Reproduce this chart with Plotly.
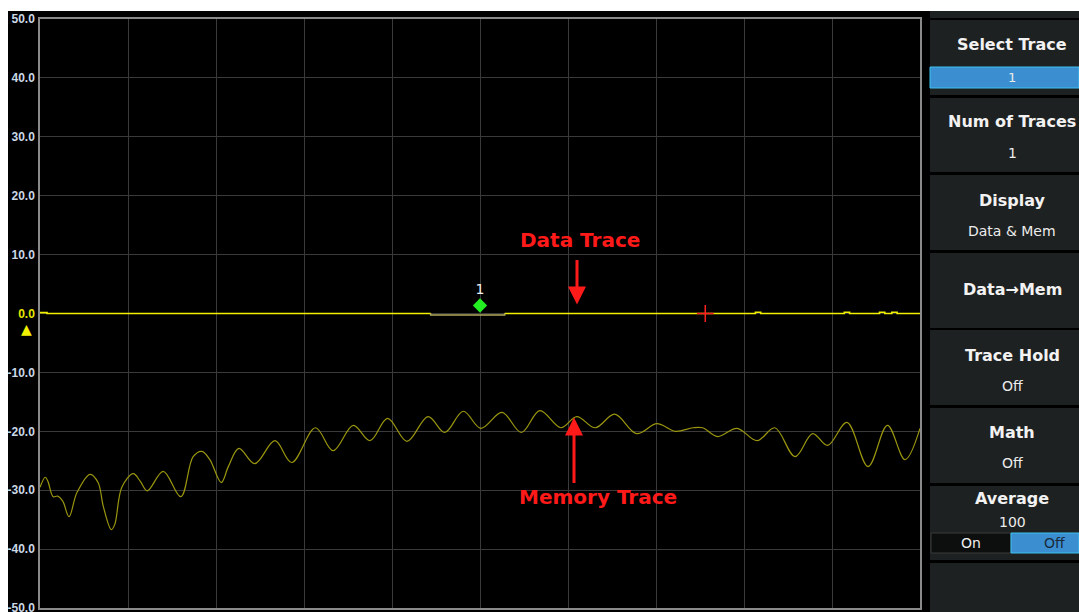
import plotly.graph_objects as go

# ---------------- data ----------------
# x in grid divisions (0..10), y in dB
mem_x = [0.00, 0.06, 0.09, 0.15, 0.20, 0.26, 0.33, 0.42, 0.57, 0.66, 0.72, 0.81, 0.85, 0.93,
         1.06, 1.14, 1.22, 1.40, 1.60, 1.74, 1.84, 1.93, 2.06, 2.14, 2.26, 2.44, 2.67, 2.86,
         3.13, 3.33, 3.56, 3.75, 3.95, 4.17, 4.41, 4.60, 4.81, 5.01, 5.25, 5.47, 5.68, 5.92,
         6.10, 6.31, 6.53, 6.78, 7.01, 7.22, 7.42, 7.53, 7.70, 7.92, 8.15, 8.35, 8.58, 8.78,
         8.95, 9.17, 9.41, 9.63, 9.83, 10.00]
mem_y = [-29.5, -27.8, -28.5, -31.1, -31.0, -31.9, -34.5, -30.4, -27.3, -28.7, -32.8, -36.7, -35.8, -29.5,
         -27.2, -28.5, -30.1, -26.8, -31.1, -24.3, -23.4, -24.8, -28.7, -26.0, -22.9, -25.5, -21.6, -25.3,
         -19.4, -23.3, -19.0, -21.6, -17.8, -21.7, -17.5, -20.2, -16.6, -19.5, -16.8, -20.2, -16.5, -19.4,
         -17.5, -19.4, -17.1, -20.4, -18.7, -20.0, -19.4, -19.4, -20.9, -19.5, -21.6, -19.4, -24.3, -20.4,
         -22.4, -18.5, -26.0, -19.0, -24.8, -19.5]

data_x = [0.00, 0.08, 0.08, 4.44, None, 5.28, 8.13, 8.13, 8.19, 8.19, 9.14, 9.14, 9.20, 9.20,
          9.54, 9.54, 9.60, 9.60, 9.68, 9.68, 9.74, 9.74, 10.00]
data_y = [0.15, 0.15, 0.00, 0.00, None, 0.00, 0.00, 0.20, 0.20, 0.00, 0.00, 0.20, 0.20, 0.00,
          0.00, 0.20, 0.20, 0.00, 0.00, 0.20, 0.20, 0.00, 0.00]
dim_x = [4.44, 4.44, 5.28, 5.28]
dim_y = [0.00, -0.25, -0.25, 0.00]

marker1_x, marker1_y = 5.0, 1.36
cross_x, cross_y = 7.56, 0.0

y_ticks = [50, 40, 30, 20, 10, 0, -10, -20, -30, -40, -50]
y_labels = ["50.0", "40.0", "30.0", "20.0", "10.0", "0.0", "-10.0", "-20.0", "-30.0", "-40.0", "-50.0"]
ref_label = "0.0"

menu_titles = ["Select Trace", "Num of Traces", "Display", "Data\u2192Mem", "Trace Hold", "Math", "Average"]
menu_values = ["1", "1", "Data & Mem", "", "Off", "Off", "100"]
avg_options = ["On", "Off"]

# ---------------- layout helpers (screen pixel -> paper) ----------------
W, H = 1079, 612
L, R, T, B = 40, 920, 19, 608          # plot area in screen pixels


def px(x):
    return (x - L) / (R - L)


def py(y):
    return (B - y) / (B - T)


tick_text = []
for lab in y_labels:
    if lab == ref_label:
        tick_text.append("<b><span style='color:#e6e600'>%s</span></b>" % lab)
    else:
        tick_text.append("<b>%s</b>" % lab)

fig = go.Figure()
fig.add_trace(go.Scatter(x=mem_x, y=mem_y, mode="lines",
                         line=dict(color="#9a960f", width=1.2, shape="spline", smoothing=1.0),
                         hoverinfo="skip"))
fig.add_trace(go.Scatter(x=data_x, y=data_y, mode="lines",
                         line=dict(color="#f2f200", width=1.6), hoverinfo="skip"))
fig.add_trace(go.Scatter(x=dim_x, y=dim_y, mode="lines",
                         line=dict(color="#b4ac5c", width=1.6), hoverinfo="skip"))
fig.add_trace(go.Scatter(x=[marker1_x], y=[marker1_y], mode="markers+text",
                         marker=dict(symbol="diamond", size=11, color="#22ee22"),
                         text=["1"], textposition="top center",
                         textfont=dict(color="#f0f0f0", size=14, family="DejaVu Sans"),
                         hoverinfo="skip"))
fig.add_trace(go.Scatter(x=[cross_x], y=[cross_y], mode="markers",
                         marker=dict(symbol="cross-thin", size=12, color="#ff2020",
                                     line=dict(color="#ff2020", width=1.5)),
                         hoverinfo="skip"))

shapes = []
annotations = []

# white frame bits of the screenshot (top band, left strip)
shapes.append(dict(type="rect", xref="paper", yref="paper", x0=px(0), x1=px(W), y0=py(11), y1=py(0),
                   fillcolor="white", line=dict(width=0), layer="below"))
shapes.append(dict(type="rect", xref="paper", yref="paper", x0=px(0), x1=px(8), y0=py(H), y1=py(0),
                   fillcolor="white", line=dict(width=0), layer="below"))

PANEL = "#1e2121"
shapes.append(dict(type="rect", xref="paper", yref="paper", x0=px(930), x1=px(W), y0=py(18), y1=py(11),
                   fillcolor=PANEL, line=dict(width=0)))
boxes = [(20, 95), (98, 172), (175, 250), (253, 328), (330, 405), (408, 483), (486, 560), (563, 612)]
for (y0, y1) in boxes:
    shapes.append(dict(type="rect", xref="paper", yref="paper", x0=px(930), x1=px(W),
                       y0=py(y1), y1=py(y0), fillcolor=PANEL, line=dict(width=0)))

shapes.append(dict(type="rect", xref="paper", yref="paper", x0=px(930), x1=px(W),
                   y0=py(88), y1=py(67), fillcolor="#3b8ecf", line=dict(color="#3cc4f2", width=1)))
shapes.append(dict(type="rect", xref="paper", yref="paper", x0=px(931), x1=px(1011),
                   y0=py(553), y1=py(533), fillcolor="#0d0e0e", line=dict(color="#3a3c3c", width=1)))
shapes.append(dict(type="rect", xref="paper", yref="paper", x0=px(1011), x1=px(W),
                   y0=py(553), y1=py(533), fillcolor="#3b8ecf", line=dict(color="#3cc4f2", width=1)))

title_y = [45, 122, 200, 289, 355, 432, 498]
value_y = [78, 153, 231, None, 386, 463, 522]
CX = 1012
for t, v, ty, vy in zip(menu_titles, menu_values, title_y, value_y):
    annotations.append(dict(xref="paper", yref="paper", x=px(CX), y=py(ty), text="<b>%s</b>" % t,
                            showarrow=False, xanchor="center", yanchor="middle",
                            font=dict(family="DejaVu Sans", size=16, color="#f2f2f2")))
    if v and vy is not None:
        annotations.append(dict(xref="paper", yref="paper", x=px(CX), y=py(vy), text=v,
                                showarrow=False, xanchor="center", yanchor="middle",
                                font=dict(family="DejaVu Sans", size=14 if vy != 78 else 13,
                                          color="#ececec")))
for opt, ox in zip(avg_options, [971, 1054]):
    annotations.append(dict(xref="paper", yref="paper", x=px(ox), y=py(543), text=opt,
                            showarrow=False, xanchor="center", yanchor="middle",
                            font=dict(family="DejaVu Sans", size=14,
                                      color="#f0f0f0" if opt == "On" else "#1a2a3a")))

annotations.append(dict(xref="paper", yref="paper", x=px(26), y=py(329), text="\u25b2",
                        showarrow=False, xanchor="center", yanchor="middle",
                        font=dict(family="DejaVu Sans", size=14, color="#f2f200")))

annotations.append(dict(xref="paper", yref="paper", x=px(580), y=py(240), text="<b>Data Trace</b>",
                        showarrow=False, xanchor="center", yanchor="middle",
                        font=dict(family="DejaVu Sans", size=20, color="#ff1a1a")))
annotations.append(dict(x=(577 - L) / 88, y=(314 - 305) / 5.89, xref="x", yref="y", text="",
                        showarrow=True, arrowhead=2, arrowsize=1.2, arrowwidth=3, arrowcolor="#ff1a1a",
                        ax=0, ay=-46))
annotations.append(dict(xref="paper", yref="paper", x=px(598), y=py(497), text="<b>Memory Trace</b>",
                        showarrow=False, xanchor="center", yanchor="middle",
                        font=dict(family="DejaVu Sans", size=20, color="#ff1a1a")))
annotations.append(dict(x=(574 - L) / 88, y=(314 - 418) / 5.89, xref="x", yref="y", text="",
                        showarrow=True, arrowhead=2, arrowsize=1.2, arrowwidth=3, arrowcolor="#ff1a1a",
                        ax=0, ay=67))

fig.update_layout(
    width=W, height=H,
    margin=dict(l=L, r=W - R, t=T, b=H - B, pad=0, autoexpand=False),
    paper_bgcolor="black", plot_bgcolor="black",
    showlegend=False,
    shapes=shapes, annotations=annotations,
    xaxis=dict(range=[0, 10], dtick=1, tick0=0, showgrid=True, gridcolor="#3a3a3a", gridwidth=1,
               showticklabels=False, zeroline=False, showline=True, linecolor="#8a8a8a",
               linewidth=1.5, mirror=True, ticks="", automargin=False),
    yaxis=dict(range=[-50, 50], tickvals=y_ticks, ticktext=tick_text, showgrid=True,
               gridcolor="#3a3a3a", gridwidth=1, zeroline=False, showline=True, linecolor="#8a8a8a",
               linewidth=1.5, mirror=True, ticks="", ticklabelstandoff=1, ticklabeloverflow="allow",
               automargin=False,
               tickfont=dict(family="Liberation Sans", size=12, color="#cbd8e6")),
)

# remove the default page margin / scrollbars so the figure fills the window exactly
fig.write_html("out.html", config={"displayModeBar": False},
               post_script="document.body.style.margin='0';document.body.style.overflow='hidden';"
                           "document.documentElement.style.overflow='hidden';")
